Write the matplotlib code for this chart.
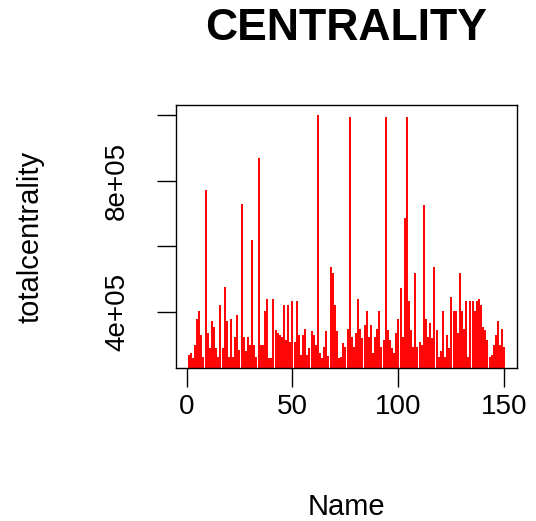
import matplotlib
matplotlib.use("Agg")
import matplotlib.pyplot as plt
import numpy as np

plt.rcParams['font.family'] = ['Liberation Sans', 'DejaVu Sans']

# totalcentrality values (thousands) for Name = 1..150
centrality_k = [
    269, 275, 260, 299, 379, 403, 330, 263, 772,
    336, 290, 373, 354, 290, 263, 421, 290, 476, 373, 263, 379, 263, 324, 391, 284,
    729, 324, 281, 324, 299, 620, 299, 263, 870,
    299, 299, 403, 440, 260, 260, 440, 345, 336, 330, 324, 421, 315,
    421, 309, 434, 309, 434, 330, 269, 330, 348, 269, 290, 342, 330, 299, 1000,
    275, 260, 293, 342, 266, 537, 519, 421, 342, 260, 263, 305, 293, 348, 992,
    324, 293, 336, 440, 348, 321, 360, 403, 324, 360, 275, 324, 348, 403, 293, 315, 992,
    345, 315, 290, 275, 336, 379, 473, 324, 687, 992,
    434, 345, 293, 519, 293, 309, 299, 726,
    379, 324, 366, 321, 537, 345, 263, 281, 403, 263, 330, 290, 446, 403, 403, 336,
    519, 403, 348, 434, 263, 434, 434, 403, 434, 440, 421, 354, 345, 315, 263, 269,
    299, 330, 373, 299, 348, 293,
]
names = np.arange(1, len(centrality_k) + 1)
values = np.array(centrality_k) * 1000.0

x_ticks = [0, 50, 100, 150]
y_ticks = [4e5, 6e5, 8e5, 1e6]
y_tick_labels = ["4e+05", "", "8e+05", ""]

fig = plt.figure(figsize=(5.36, 5.21), dpi=100)
ax = fig.add_axes([176/536, 1 - 368/521, (517-176)/536, (368-105)/521])

ax.vlines(names, 0, values, colors='#ff0000', linewidth=1.4)

vmin, vmax = values.min(), values.max()
r = vmax - vmin
ax.set_ylim(vmin - 0.04*r, vmax + 0.04*r)
xr = names.max() - names.min()
ax.set_xlim(names.min() - 0.04*xr, names.max() + 0.04*xr)

ax.set_xticks(x_ticks)
ax.set_xticklabels([str(t) for t in x_ticks])
ax.set_yticks(y_ticks)
ax.set_yticklabels(y_tick_labels, rotation=90, va='center')

for s in ax.spines.values():
    s.set_linewidth(1.0)
    s.set_color('black')
ax.tick_params(axis='both', direction='out', length=14, width=1.0, labelsize=20)
ax.tick_params(axis='x', pad=5)
ax.tick_params(axis='y', pad=19)

ax.set_xlabel("Name", fontsize=21, labelpad=52)
ax.set_ylabel("totalcentrality", fontsize=21, labelpad=43)
ax.set_title("CENTRALITY", fontsize=32, fontweight='bold', pad=47)

fig.savefig("out.png", dpi=100)
